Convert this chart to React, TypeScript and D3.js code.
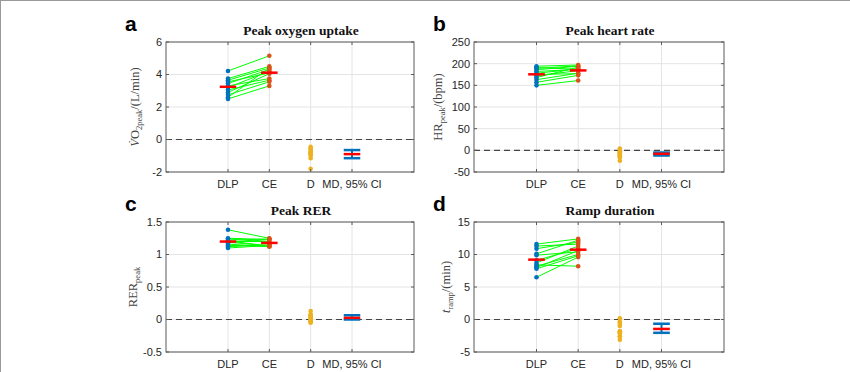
import React from 'react';
import * as d3 from 'd3';

const categories = ['DLP', 'CE', 'D', 'MD, 95% CI'];
const categoryPos = [1, 2, 3, 4];

// Peak oxygen uptake (L/min)
const vo2DLP = [4.22, 3.75, 3.65, 3.55, 3.45, 3.3, 3.2, 3.05, 2.9, 2.75, 2.6, 2.5];
const vo2CE = [5.15, 4.5, 4.4, 4.1, 4.3, 3.75, 4.2, 3.65, 4.05, 3.55, 4.4, 3.3];
const vo2MD = [-0.9, -1.15, -0.65];
const vo2Ticks = [-2, 0, 2, 4, 6];

// Peak heart rate (bpm)
const hrDLP = [194, 191, 189, 186, 182, 178, 175, 172, 168, 163, 157, 150];
const hrCE = [197, 187, 195, 194, 187, 188, 177, 184, 192, 178, 173, 161];
const hrMD = [-8, -12, -5];
const hrTicks = [-50, 0, 50, 100, 150, 200, 250];

// Peak RER
const rerDLP = [1.38, 1.25, 1.24, 1.22, 1.21, 1.2, 1.19, 1.18, 1.16, 1.14, 1.12, 1.1];
const rerCE = [1.25, 1.23, 1.19, 1.24, 1.13, 1.2, 1.13, 1.23, 1.12, 1.13, 1.15, 1.14];
const rerMD = [0.025, 0.0, 0.065];
const rerTicks = [-0.5, 0, 0.5, 1, 1.5];

// Ramp duration (min)
const rampDLP = [11.6, 11.3, 10.9, 10.1, 9.9, 9.1, 8.7, 8.4, 8.2, 8.0, 7.8, 6.5];
const rampCE = [12.4, 11.6, 11.9, 12.2, 10.4, 10.9, 11.3, 8.2, 10.0, 10.6, 9.8, 9.6];
const rampMD = [-1.45, -2.05, -0.65];
const rampTicks = [-5, 0, 5, 10, 15];

const BLUE = '#0072BD';
const ORANGE = '#D95319';
const YELLOW = '#EDB120';
const GREEN = '#00FF00';
const RED = '#FF0000';

type PanelProps = {
  left: number; top: number; width: number; height: number;
  ticks: number[]; dlp: number[]; ce: number[]; md: number[];
  title: string; letter: string; ylabel: React.ReactNode; labelOffset: number;
};

function Panel(p: PanelProps) {
  const { left, top, width, height, ticks, dlp, ce, md } = p;
  const x = d3.scaleLinear().domain([-0.5, 5.5]).range([left, left + width]);
  const y = d3.scaleLinear().domain([ticks[0], ticks[ticks.length - 1]]).range([top + height, top]);
  const diff = dlp.map((v, i) => v - ce[i]);
  const mDLP = d3.mean(dlp) as number;
  const mCE = d3.mean(ce) as number;
  const hw = x(0.2) - x(0);
  const r = 2.3;
  const tl = 3;
  const line = d3.line<[number, number]>().x(d => x(d[0])).y(d => y(d[1]));
  return (
    <g>
      {/* grid */}
      {ticks.map(t => (
        <line key={'gy' + t} x1={left} x2={left + width} y1={y(t)} y2={y(t)} stroke="#e4e4e4" strokeWidth={1} />
      ))}
      {categoryPos.map(c => (
        <line key={'gx' + c} x1={x(c)} x2={x(c)} y1={top} y2={top + height} stroke="#e4e4e4" strokeWidth={1} />
      ))}
      {/* zero line */}
      <line x1={left} x2={left + width} y1={y(0)} y2={y(0)} stroke="#444" strokeWidth={1.2} strokeDasharray="6,4" />
      {/* paired lines */}
      {dlp.map((v, i) => (
        <path key={'pl' + i} d={line([[categoryPos[0], v], [categoryPos[1], ce[i]]]) as string} stroke={GREEN} strokeWidth={1} fill="none" />
      ))}
      {dlp.map((v, i) => (
        <circle key={'d' + i} cx={x(categoryPos[0])} cy={y(v)} r={r} fill={BLUE} />
      ))}
      {ce.map((v, i) => (
        <circle key={'c' + i} cx={x(categoryPos[1])} cy={y(v)} r={r} fill={ORANGE} />
      ))}
      {diff.map((v, i) => (
        <circle key={'df' + i} cx={x(categoryPos[2])} cy={y(v)} r={r} fill={YELLOW} />
      ))}
      {/* MD errorbar */}
      <line x1={x(categoryPos[3])} x2={x(categoryPos[3])} y1={y(md[1])} y2={y(md[2])} stroke={BLUE} strokeWidth={2} />
      <line x1={x(categoryPos[3]) - hw} x2={x(categoryPos[3]) + hw} y1={y(md[1])} y2={y(md[1])} stroke={BLUE} strokeWidth={2.5} />
      <line x1={x(categoryPos[3]) - hw} x2={x(categoryPos[3]) + hw} y1={y(md[2])} y2={y(md[2])} stroke={BLUE} strokeWidth={2.5} />
      <line x1={x(categoryPos[3]) - hw} x2={x(categoryPos[3]) + hw} y1={y(md[0])} y2={y(md[0])} stroke={RED} strokeWidth={2.5} />
      {/* means */}
      <line x1={x(categoryPos[0]) - hw} x2={x(categoryPos[0]) + hw} y1={y(mDLP)} y2={y(mDLP)} stroke={RED} strokeWidth={2.5} />
      <line x1={x(categoryPos[1]) - hw} x2={x(categoryPos[1]) + hw} y1={y(mCE)} y2={y(mCE)} stroke={RED} strokeWidth={2.5} />
      {/* box and ticks */}
      <rect x={left} y={top} width={width} height={height} fill="none" stroke="#5a5a5a" strokeWidth={1} />
      {ticks.map(t => (
        <g key={'t' + t}>
          <line x1={left} x2={left + tl} y1={y(t)} y2={y(t)} stroke="#5a5a5a" />
          <line x1={left + width - tl} x2={left + width} y1={y(t)} y2={y(t)} stroke="#5a5a5a" />
          <text x={left - 4} y={y(t)} dy="0.35em" textAnchor="end" fontSize={11} fill="#262626" fontFamily="'Liberation Sans', Arial, sans-serif">{String(t)}</text>
        </g>
      ))}
      {categoryPos.map((c, i) => (
        <g key={'xt' + c}>
          <line x1={x(c)} x2={x(c)} y1={top + height} y2={top + height - tl} stroke="#5a5a5a" />
          <line x1={x(c)} x2={x(c)} y1={top} y2={top + tl} stroke="#5a5a5a" />
          <text x={x(c)} y={top + height + 16} textAnchor="middle" fontSize={11} fill="#262626" fontFamily="'Liberation Sans', Arial, sans-serif">{categories[i]}</text>
        </g>
      ))}
      {/* title */}
      <text x={left + width / 2 + 11} y={top - 7} textAnchor="middle" fontSize={13.5} fontWeight="bold" fill="#111" fontFamily="'Liberation Serif', 'Times New Roman', serif">{p.title}</text>
      {/* letter */}
      <text x={left - 41} y={top - 11} fontSize={21} fontWeight="bold" fill="#000" fontFamily="'Liberation Sans', Arial, sans-serif">{p.letter}</text>
      {/* y label */}
      <text transform={`translate(${left - p.labelOffset + 4},${top + height / 2}) rotate(-90)`} textAnchor="middle" fontSize={12.5} fill="#444" fontFamily="'Liberation Serif', 'Times New Roman', serif">{p.ylabel}</text>
    </g>
  );
}

export default function App() {
  const sub = (s: string) => [
    <tspan key="s" dy={3} fontSize={8.5}>{s}</tspan>,
  ];
  return (
    <svg width={850} height={372} style={{ display: 'block', position: 'absolute', left: 0, top: 0 }}>
      <rect x={0} y={0} width={850} height={372} fill="#fff" />
      <line x1={0} x2={850} y1={0.5} y2={0.5} stroke="#999" strokeWidth={1} />
      <line x1={0.5} x2={0.5} y1={0} y2={372} stroke="#999" strokeWidth={1} />
      <Panel left={166} top={42} width={248} height={130} ticks={vo2Ticks} dlp={vo2DLP} ce={vo2CE} md={vo2MD}
        title="Peak oxygen uptake" letter="a" labelOffset={31}
        ylabel={<>
          <tspan fontStyle="italic">{'V\u0307'}</tspan><tspan>O</tspan>{sub('2peak')}<tspan dy={-3}>/(L/min)</tspan>
        </>} />
      <Panel left={474} top={42} width={250} height={130} ticks={hrTicks} dlp={hrDLP} ce={hrCE} md={hrMD}
        title="Peak heart rate" letter="b" labelOffset={36}
        ylabel={<>
          <tspan>HR</tspan>{sub('peak')}<tspan dy={-3}>/(bpm)</tspan>
        </>} />
      <Panel left={166} top={222} width={248} height={130} ticks={rerTicks} dlp={rerDLP} ce={rerCE} md={rerMD}
        title="Peak RER" letter="c" labelOffset={33}
        ylabel={<>
          <tspan>RER</tspan>{sub('peak')}
        </>} />
      <Panel left={474} top={222} width={250} height={130} ticks={rampTicks} dlp={rampDLP} ce={rampCE} md={rampMD}
        title="Ramp duration" letter="d" labelOffset={28}
        ylabel={<>
          <tspan fontStyle="italic">t</tspan>{sub('ramp')}<tspan dy={-3}>/(min)</tspan>
        </>} />
    </svg>
  );
}
